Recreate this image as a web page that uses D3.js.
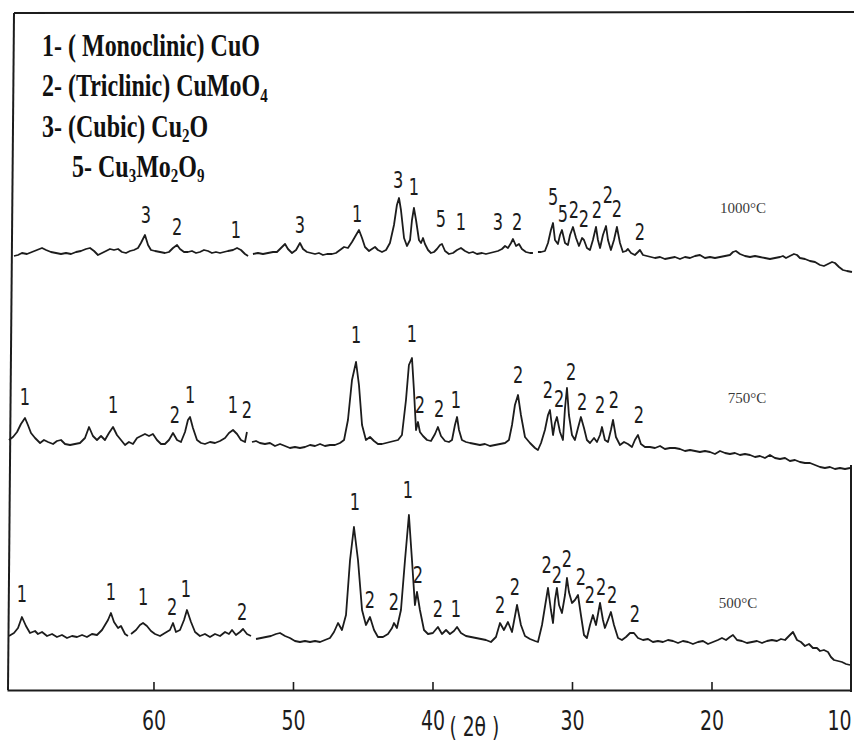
<!DOCTYPE html>
<html>
<head>
<meta charset="utf-8">
<script src="https://cdn.jsdelivr.net/npm/d3@7"></script>
<style>
  body { margin: 0; background: #fff; }
  svg { display: block; }
</style>
</head>
<body>
<div id="xrd_plot"></div>
<script>
// 2theta tick values on the bottom axis
var tickValues = [60, 50, 40, 30, 20, 10];

// phases named in the key
var phaseNumbers = ["1-", "2-", "3-", "5-"];
var phaseNames = ["( Monoclinic) CuO", "(Triclinic) CuMoO4", "(Cubic) Cu2O", "Cu3Mo2O9"];

// calcination temperatures and the vertical offset of each pattern (counts)
var temperatures = ["1000°C", "750°C", "500°C"];
var offsets = [380, 190, 0];
var tempTheta = [17.74, 17.46, 18.10];
var tempLevel = [97, 97, 82];

// patterns: [2theta, intensity], null = break in the trace
var trace1000 = [[70.00,54],[69.71,55],[69.43,57],[69.07,56],[68.71,58],[68.35,60],[67.99,62],[67.70,60],[67.35,58],[66.99,57],[66.63,56],[66.27,57],[65.91,56],[65.55,58],[65.20,59],[64.84,61],[64.55,62],[64.26,59],[63.98,55],[63.69,57],[63.40,59],[63.12,61],[62.83,60],[62.54,61],[62.26,58],[61.97,57],[61.68,59],[61.40,60],[61.11,62],[60.90,67],[60.61,75],[60.39,65],[60.18,60],[59.89,59],[59.53,58],[59.18,57],[58.89,58],[58.60,62],[58.31,65],[58.10,61],[57.81,58],[57.53,58],[57.24,59],[56.95,57],[56.67,58],[56.38,60],[56.09,59],[55.81,57],[55.52,58],[55.23,57],[54.95,58],[54.66,59],[54.30,60],[54.01,62],[53.73,60],[53.44,56],[53.22,54],[53.08,null],[52.87,56],[52.51,57],[52.15,56],[51.79,57],[51.43,58],[51.15,58],[50.86,62],[50.57,66],[50.36,61],[50.07,57],[49.78,60],[49.50,67],[49.28,61],[49.00,58],[48.71,57],[48.42,56],[48.14,57],[47.85,55],[47.56,56],[47.20,56],[46.92,57],[46.63,60],[46.34,63],[46.06,62],[45.77,68],[45.48,75],[45.27,80],[45.05,72],[44.84,63],[44.55,59],[44.34,61],[44.12,63],[43.91,60],[43.62,58],[43.33,60],[43.05,67],[42.76,85],[42.55,105],[42.40,112],[42.26,100],[42.04,72],[41.83,64],[41.61,70],[41.47,90],[41.33,102],[41.18,90],[40.97,70],[40.82,67],[40.68,72],[40.54,66],[40.32,60],[40.11,57],[39.89,58],[39.68,61],[39.46,65],[39.32,66],[39.10,59],[38.82,56],[38.53,57],[38.24,60],[37.96,62],[37.67,59],[37.38,57],[37.10,58],[36.81,56],[36.45,57],[36.17,56],[35.88,57],[35.59,58],[35.31,59],[35.02,61],[34.80,64],[34.59,62],[34.37,67],[34.23,71],[34.01,64],[33.80,66],[33.59,61],[33.30,58],[33.01,57],[32.80,57],[32.65,null],[32.44,58],[32.22,58],[31.94,59],[31.72,67],[31.51,80],[31.36,87],[31.22,70],[31.01,66],[30.86,75],[30.72,80],[30.50,67],[30.29,65],[30.14,75],[29.93,83],[29.71,72],[29.50,64],[29.28,72],[29.14,70],[28.93,62],[28.71,60],[28.50,70],[28.28,83],[28.14,70],[27.99,62],[27.78,75],[27.56,84],[27.42,70],[27.21,60],[26.99,70],[26.78,83],[26.56,67],[26.35,58],[26.13,59],[25.99,61],[25.77,57],[25.49,55],[25.27,58],[25.13,60],[24.91,55],[24.63,54],[24.34,53],[24.05,52],[23.69,53],[23.34,51],[22.98,52],[22.62,53],[22.26,51],[21.90,53],[21.54,52],[21.18,54],[20.83,55],[20.47,52],[20.11,53],[19.75,52],[19.39,53],[19.03,54],[18.68,55],[18.46,58],[18.25,59],[17.96,56],[17.60,54],[17.24,53],[16.88,54],[16.53,53],[16.17,52],[15.81,51],[15.45,52],[15.09,53],[14.88,54],[14.66,52],[14.38,54],[14.09,56],[13.87,55],[13.66,52],[13.30,51],[12.94,49],[12.58,48],[12.22,45],[11.94,44],[11.65,46],[11.36,48],[11.15,47],[10.86,43],[10.58,40],[10.29,39],[9.93,38]];

var trace750 = [[70.36,60],[70.07,63],[69.78,68],[69.50,76],[69.21,82],[69.00,75],[68.78,67],[68.49,62],[68.13,57],[67.85,60],[67.56,58],[67.20,56],[66.92,59],[66.63,60],[66.34,56],[65.98,55],[65.63,56],[65.27,57],[64.91,62],[64.62,73],[64.34,64],[64.05,60],[63.76,64],[63.48,60],[63.19,67],[62.90,73],[62.62,65],[62.33,60],[62.04,55],[61.76,58],[61.47,56],[61.18,62],[60.90,64],[60.61,66],[60.32,64],[60.04,66],[59.75,60],[59.46,56],[59.18,56],[58.89,60],[58.60,67],[58.31,60],[58.03,58],[57.74,68],[57.53,80],[57.38,83],[57.17,72],[56.88,60],[56.59,57],[56.31,56],[55.95,58],[55.59,57],[55.23,59],[54.87,62],[54.59,67],[54.30,70],[54.01,66],[53.73,60],[53.44,58],[53.30,68],[53.15,null],[52.94,58],[52.65,59],[52.37,57],[52.01,56],[51.65,57],[51.29,54],[50.93,56],[50.57,54],[50.22,52],[49.86,53],[49.50,52],[49.14,53],[48.78,55],[48.42,54],[48.06,56],[47.71,54],[47.35,55],[46.99,55],[46.63,57],[46.34,60],[46.06,80],[45.77,120],[45.48,138],[45.27,115],[45.05,75],[44.77,60],[44.48,63],[44.19,59],[43.91,56],[43.62,56],[43.33,57],[43.05,58],[42.76,59],[42.47,60],[42.19,65],[41.90,100],[41.69,135],[41.47,142],[41.33,110],[41.18,70],[41.04,78],[40.90,68],[40.68,64],[40.39,60],[40.11,59],[39.82,66],[39.61,73],[39.39,64],[39.10,59],[38.82,58],[38.60,60],[38.39,75],[38.24,83],[38.10,70],[37.89,60],[37.60,58],[37.31,57],[36.95,56],[36.60,55],[36.24,56],[35.88,54],[35.52,55],[35.16,56],[34.80,57],[34.52,60],[34.30,75],[34.09,95],[33.87,105],[33.66,85],[33.37,63],[33.01,57],[32.65,52],[32.44,50],[32.22,57],[31.94,70],[31.72,85],[31.58,90],[31.36,65],[31.22,77],[31.08,83],[30.86,68],[30.65,60],[30.50,92],[30.36,112],[30.22,85],[30.00,65],[29.79,60],[29.57,72],[29.36,83],[29.14,72],[28.93,60],[28.71,57],[28.42,62],[28.21,58],[27.99,65],[27.85,73],[27.64,60],[27.42,58],[27.21,70],[27.06,80],[26.85,63],[26.56,55],[26.27,58],[25.99,56],[25.70,53],[25.49,60],[25.27,65],[25.06,56],[24.77,53],[24.41,53],[24.05,52],[23.69,54],[23.34,51],[22.98,52],[22.62,52],[22.26,51],[21.90,49],[21.54,50],[21.18,49],[20.83,48],[20.47,49],[20.11,48],[19.75,46],[19.39,49],[19.03,47],[18.68,46],[18.32,47],[17.96,45],[17.60,46],[17.24,45],[16.88,43],[16.53,44],[16.17,42],[15.81,45],[15.45,42],[15.09,41],[14.73,42],[14.38,39],[14.02,40],[13.66,38],[13.30,37],[12.94,37],[12.58,35],[12.22,33],[11.87,32],[11.51,33],[11.15,31],[10.79,32],[10.43,31],[10.07,32]];

var trace500 = [[70.36,54],[70.00,57],[69.71,62],[69.43,73],[69.14,64],[68.85,57],[68.49,59],[68.28,56],[67.99,58],[67.63,54],[67.27,56],[66.92,53],[66.56,55],[66.20,52],[65.84,54],[65.48,53],[65.12,55],[64.77,53],[64.41,56],[64.05,55],[63.69,60],[63.26,70],[63.05,77],[62.83,68],[62.54,62],[62.33,64],[62.04,56],[61.83,54],[61.72,null],[61.61,56],[61.25,60],[60.97,65],[60.75,67],[60.47,64],[60.18,59],[59.89,56],[59.53,54],[59.18,57],[58.82,60],[58.60,67],[58.39,58],[58.10,60],[57.81,70],[57.60,80],[57.31,68],[57.02,58],[56.67,54],[56.31,56],[55.95,53],[55.59,56],[55.23,54],[54.87,58],[54.59,56],[54.37,60],[54.09,55],[53.80,58],[53.58,61],[53.30,56],[53.01,54],[52.87,null],[52.65,51],[52.29,52],[51.94,53],[51.58,54],[51.22,56],[50.93,57],[50.57,54],[50.22,52],[49.86,49],[49.50,48],[49.14,49],[48.78,48],[48.42,49],[48.06,48],[47.71,50],[47.35,52],[47.06,58],[46.77,67],[46.49,60],[46.20,75],[45.91,130],[45.63,163],[45.34,130],[45.05,80],[44.77,65],[44.48,73],[44.19,60],[43.91,53],[43.55,53],[43.19,56],[42.90,62],[42.76,67],[42.55,62],[42.26,80],[41.97,130],[41.69,175],[41.47,130],[41.26,85],[41.11,98],[40.90,80],[40.61,60],[40.32,56],[39.97,57],[39.61,63],[39.32,56],[39.03,60],[38.75,56],[38.46,59],[38.24,63],[37.96,57],[37.60,54],[37.24,53],[36.88,52],[36.52,51],[36.17,50],[35.81,48],[35.45,53],[35.16,67],[34.88,60],[34.59,68],[34.30,58],[33.94,85],[33.66,65],[33.37,54],[33.01,51],[32.65,49],[32.44,48],[32.15,65],[31.86,90],[31.72,102],[31.51,80],[31.36,67],[31.22,90],[31.08,102],[30.93,85],[30.72,77],[30.50,95],[30.36,112],[30.22,98],[30.00,87],[29.79,90],[29.57,95],[29.36,75],[29.14,55],[28.93,52],[28.71,65],[28.50,75],[28.28,65],[27.99,87],[27.78,70],[27.64,62],[27.42,70],[27.21,78],[26.99,65],[26.70,52],[26.42,50],[26.13,53],[25.84,57],[25.56,57],[25.27,52],[24.91,50],[24.55,51],[24.20,48],[23.84,49],[23.48,48],[23.12,50],[22.76,49],[22.40,47],[22.05,49],[21.69,48],[21.33,46],[20.97,48],[20.61,49],[20.25,46],[19.89,48],[19.54,50],[19.25,52],[18.96,50],[18.68,53],[18.46,55],[18.17,50],[17.82,49],[17.46,47],[17.10,48],[16.74,49],[16.38,47],[16.02,49],[15.67,50],[15.31,49],[15.02,51],[14.73,50],[14.45,54],[14.16,58],[13.87,50],[13.59,48],[13.30,44],[13.01,46],[12.73,42],[12.44,42],[12.22,39],[11.94,40],[11.65,38],[11.44,33],[11.22,30],[10.93,29],[10.65,28],[10.36,26],[10.07,25]];

// peak assignments: [2theta, label level (counts), phase number]
var peaks1000 = [[60.54,87,"3"],[58.31,75,"2"],[54.09,72,"1"],[49.50,77,"3"],[45.41,88,"1"],[42.47,122,"3"],[41.33,115,"1"],[39.39,83,"5"],[37.96,80,"1"],[35.31,80,"3"],[33.94,80,"2"],[31.36,105,"5"],[30.65,88,"5"],[29.86,92,"2"],[29.14,83,"2"],[28.21,92,"2"],[27.42,107,"2"],[26.78,93,"2"],[25.13,70,"2"]];
var peaks750 = [[69.21,95,"1"],[62.90,87,"1"],[58.46,77,"2"],[57.38,97,"1"],[54.30,87,"1"],[53.30,82,"2"],[45.48,157,"1"],[41.47,158,"1"],[40.90,87,"2"],[39.53,83,"2"],[38.32,92,"1"],[33.87,117,"2"],[31.72,102,"2"],[30.93,93,"2"],[30.07,120,"2"],[29.28,90,"2"],[27.99,87,"2"],[26.99,92,"2"],[25.20,77,"2"]];
var peaks500 = [[69.43,88,"1"],[63.05,90,"1"],[60.75,85,"1"],[58.67,75,"2"],[57.67,93,"1"],[53.65,70,"2"],[45.56,180,"1"],[44.48,82,"2"],[42.76,80,"2"],[41.76,192,"1"],[41.04,107,"2"],[39.61,73,"2"],[38.32,73,"1"],[35.16,77,"2"],[34.09,95,"2"],[31.82,117,"2"],[31.08,107,"2"],[30.36,123,"2"],[29.36,105,"2"],[28.71,87,"2"],[27.92,95,"2"],[27.13,87,"2"],[25.49,68,"2"]];

var traces = [trace1000, trace750, trace500];
var peaks = [peaks1000, peaks750, peaks500];

plot_xrd("#xrd_plot", 854, 751);

function plot_xrd(idname, width, height) {

    var ink = "#1c1c1c";
    var narrow = "'Liberation Sans Narrow', 'DejaVu Sans Condensed', 'Arial Narrow', sans-serif";
    var serif = "'Liberation Serif', 'Times New Roman', serif";

    // reversed 2theta axis, intensity in counts
    var x = d3.scaleLinear().domain([70.5, 10]).range([7, 851]);
    var y = d3.scaleLinear().domain([0, 680]).range([690, 10]);

    var svg = d3.select(idname).append("svg")
        .attr("width", width)
        .attr("height", height);

    // frame (top, left and the bit of right border that survived the scan)
    svg.append("path")
        .attr("d", "M" + (x(70.5) + 7) + "," + y(677) + "L" + width + "," + (y(677) - 1))
        .style("stroke", ink).style("stroke-width", 2).style("fill", "none");
    svg.append("path")
        .attr("d", "M" + (x(70.5) + 7) + "," + y(677) + "L" + (x(70.5) + 1) + "," + y(0))
        .style("stroke", ink).style("stroke-width", 2).style("fill", "none");
    svg.append("line")
        .attr("x1", x(10)).attr("x2", x(10))
        .attr("y1", y(225)).attr("y2", y(-2))
        .style("stroke", ink).style("stroke-width", 2);

    // add the x Axis
    var xAxis = svg.append("g")
        .attr("transform", "translate(0," + y(0) + ")")
        .call(d3.axisBottom(x)
            .tickValues(tickValues)
            .tickSizeInner(-8)
            .tickSizeOuter(0)
            .tickPadding(21)
            .tickFormat(d3.format("d")));

    xAxis.select(".domain").style("stroke", ink).style("stroke-width", 2);
    xAxis.selectAll(".tick line").style("stroke", ink).style("stroke-width", 1.6);
    xAxis.selectAll(".tick").filter(function(d) { return d === 10; }).select("line").remove();
    xAxis.selectAll(".tick text")
        .style("font-family", narrow)
        .style("font-size", "27px")
        .style("fill", ink)
        .attr("transform", function(d) { return d === 10 ? "translate(-12,0) scale(0.78,1)" : "scale(0.78,1)"; });

    svg.append("text")
        .attr("transform", "translate(" + x(37.0) + "," + (y(0) + 46) + ") scale(0.8,1)")
        .attr("text-anchor", "middle")
        .style("font-family", narrow)
        .style("font-size", "26px")
        .style("fill", ink)
        .text("( 2θ )");

    // define the line
    var valueline = d3.line()
        .defined(function(d) { return d[1] !== null; })
        .x(function(d) { return x(d[0]); });

    for (var i = 0; i < traces.length; i++) {
        var off = offsets[i];
        valueline.y(function(d) { return y(d[1] + off); });

        svg.append("path")
            .datum(traces[i])
            .attr("d", valueline)
            .style("fill", "none")
            .style("stroke", ink)
            .style("stroke-width", 1.8)
            .style("stroke-linejoin", "round");

        // phase numbers over the peaks
        svg.selectAll(".peak" + i)
            .data(peaks[i])
          .enter()
            .append("text")
            .attr("class", "peak" + i)
            .attr("transform", function(d) {
                return "translate(" + x(d[0]) + "," + y(d[1] + off) + ") scale(0.78,1)";
            })
            .attr("text-anchor", "middle")
            .style("font-family", narrow)
            .style("font-size", "23px")
            .style("fill", ink)
            .text(function(d) { return d[2]; });

        // temperature tag
        svg.append("text")
            .attr("x", x(tempTheta[i]))
            .attr("y", y(tempLevel[i] + off))
            .attr("text-anchor", "middle")
            .style("font-family", serif)
            .style("font-size", "15px")
            .style("fill", "#3a3a3a")
            .text(temperatures[i]);
    }

    // phase key, formula digits as subscripts
    var rowY = d3.scaleLinear().domain([0, phaseNames.length - 1]).range([56, 177]);
    phaseNames.forEach(function(name, k) {
        var t = svg.append("text")
            .attr("transform", "translate(" + (k === 3 ? 72 : 42) + "," + rowY(k) + ") scale(1,1.3)")
            .attr("xml:space", "preserve")
            .style("font-family", serif)
            .style("font-weight", "bold")
            .style("font-size", "24px")
            .style("fill", "#111");
        t.append("tspan").text(phaseNumbers[k] + " ");
        var shift = 0;
        name.split(/(\d)/).forEach(function(part) {
            if (part === "") return;
            if (/^\d$/.test(part)) {
                t.append("tspan").attr("dy", 4 - shift).style("font-size", "15px").text(part);
                shift = 4;
            } else {
                t.append("tspan").attr("dy", -shift).text(part);
                shift = 0;
            }
        });
    });
}
</script>
</body>
</html>
